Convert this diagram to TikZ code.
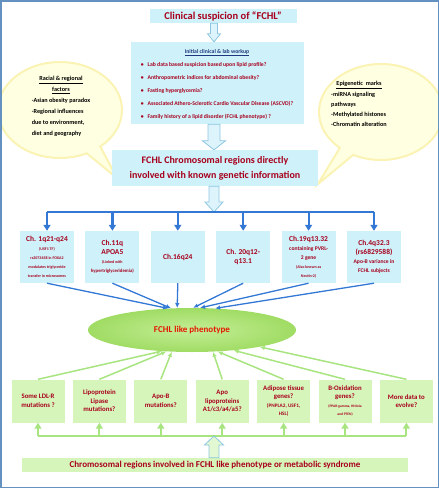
\documentclass[tikz,border=0pt]{standalone}
\usepackage{fontspec}
\setmainfont{Carlito}
\usetikzlibrary{arrows.meta,positioning,calc,shapes.geometric,shapes.callouts}
\definecolor{cyanfill}{RGB}{206,241,250}
\definecolor{darkred}{RGB}{168,0,28}
\definecolor{headblue}{RGB}{30,55,125}
\definecolor{chblue}{RGB}{50,120,212}
\definecolor{gfill}{RGB}{214,245,186}
\definecolor{gline}{RGB}{168,228,128}
\definecolor{phgreen}{RGB}{160,220,100}
\definecolor{phlight}{RGB}{196,238,150}
\definecolor{phred}{RGB}{228,24,0}
\definecolor{calfill}{RGB}{255,255,226}
\definecolor{caledge}{RGB}{250,243,180}
\definecolor{hollowedge}{RGB}{140,198,225}
\definecolor{hollowfill}{RGB}{222,244,252}
\definecolor{gholfill}{RGB}{226,248,210}
\definecolor{frameblue}{RGB}{100,145,192}
\newcommand{\fsz}[2]{\fontsize{#1}{#2}\selectfont\bfseries}
\newcommand{\chnote}[1]{{\fsz{4}{5}#1}}
\newcommand{\chmid}[1]{{\fsz{5.6}{7}#1}}
\tikzset{
  titlebox/.style={fill=cyanfill, text=darkred, font={\fsz{10.5}{12}}, minimum width=147pt, minimum height=14pt, inner sep=1pt},
  workbox/.style={fill=cyanfill, text=darkred, font={\fsz{5.7}{13}}, minimum width=173pt, minimum height=81pt, inner sep=2pt},
  chrombox/.style={fill=cyanfill, text=darkred, font={\fsz{10}{15}}, minimum width=206pt, minimum height=36pt, inner sep=1pt, align=center},
  chbox/.style={fill=cyanfill, text=darkred, font={\fsz{7.5}{9}}, minimum width=54pt, minimum height=52pt, inner sep=1pt, align=center},
  gbox/.style={fill=gfill, text=darkred, font={\fsz{6.8}{8.5}}, minimum width=53pt, minimum height=43pt, inner sep=1pt, align=center},
  crbox/.style={fill=gfill, text=darkred, font={\fsz{9}{10}}, minimum width=386pt, minimum height=14pt, inner sep=1pt},
  phen/.style={ellipse, inner color=phlight, outer color=phgreen, text=phred, font={\fsz{9}{10}}, minimum width=208pt, minimum height=44pt},
  cloud/.style={ellipse callout, fill=calfill, draw=caledge, line width=2pt, minimum width=124pt, minimum height=96pt},
  cloudtext/.style={text=black, font={\fsz{6.2}{11}}, inner sep=0pt},
  hollow/.style={draw=hollowedge, fill=hollowfill, line width=0.8pt, line join=miter},
  branch/.style={draw=chblue, line width=2.4pt},
  branchdown/.style={draw=chblue, line width=2.2pt, -{Triangle[length=6pt,width=7pt]}},
  feed/.style={draw=chblue, line width=1.3pt, -{Latex[length=5pt,width=4.5pt]}},
  gbranch/.style={draw=gline, line width=2.4pt},
  gup/.style={draw=gline, line width=2pt, -{Triangle[length=6pt,width=7pt]}},
  gfeed/.style={draw=gline, line width=1.5pt, -{Latex[length=5pt,width=4.5pt]}},
  frame/.style={draw=frameblue, line width=1.5pt}
}
% block arrow: start, tip, shaft half width, head half width, head length (signed)
\newcommand{\hollowarrow}[6][hollow]{%
  \draw[#1] let \p1=(#2), \p2=(#3) in
    ({\x1-#4},\y1) -- ({\x1-#4},{\y2+#6}) -- ({\x1-#5},{\y2+#6}) -- (\x2,\y2)
    -- ({\x1+#5},{\y2+#6}) -- ({\x1+#4},{\y2+#6}) -- ({\x1+#4},\y1) -- cycle;}

\begin{document}
\begin{tikzpicture}[x=1pt, y=-1pt]
  \useasboundingbox (0,0) rectangle (439,488);
  \coordinate (axis) at (214,0);
  \coordinate (bar) at (214,212);
  \coordinate (gbar) at (214,436);
  \coordinate (racialtip) at (117,178);
  \coordinate (epitip) at (318,184);

  % side notes
  \node[cloud, callout absolute pointer={(racialtip)}] (racial) at (60,110) {};
  \node[cloud, callout absolute pointer={(epitip)}] (epi) at (381,112) {};
  \node[cloudtext] (racialtext) at (61,106) {\begin{tabular}{@{}l@{}}
    \multicolumn{1}{@{}c@{}}{\underline{Racial \& regional}}\\
    \multicolumn{1}{@{}c@{}}{\underline{factors}}\\
    -Asian obesity paradox\\ -Regional influences\\ due to environment,\\ diet and geography
  \end{tabular}};
  \node[cloudtext, font={\fsz{6.2}{10}}] (epitext) at (359,104) {\begin{tabular}{@{}l@{}}
    \multicolumn{1}{@{}c@{}}{\underline{Epigenetic\ \ marks}}\\
    -miRNA signaling\\ pathways\\ -Methylated histones\\ -Chromatin alteration
  \end{tabular}};

  % main column
  \node[titlebox] (title) at (223,16) {Clinical suspicion of “FCHL”};
  \node[workbox] (work) at (217,83) {\begin{tabular}{@{}l@{}}
    \multicolumn{1}{@{}c@{}}{\textcolor{headblue}{\underline{Initial clinical \& lab workup}}}\\
    \textbullet\hspace{4pt}Lab  data  based suspicion based upon lipid profile?\\
    \textbullet\hspace{4pt}Anthropometric indices for abdominal obesity?\\
    \textbullet\hspace{4pt}Fasting hyperglycemia?\\
    \textbullet\hspace{4pt}Associated Athero-Sclerotic Cardio Vascular Disease (ASCVD)?\\
    \textbullet\hspace{4pt}Family history of a lipid disorder (FCHL phenotype) ?
  \end{tabular}};
  \node[chrombox] (chrom) at (215,168) {FCHL Chromosomal regions directly\\involved with known genetic information};

  \hollowarrow{title.south -| axis}{work.north -| axis}{3.5pt}{6.5pt}{8pt}
  \hollowarrow{work.south -| axis}{chrom.north -| axis}{6pt}{11.5pt}{9pt}
  \hollowarrow{chrom.south -| axis}{bar}{5pt}{9pt}{10pt}

  % chromosomal regions
  \node[chbox] (c1) at (47,257) {Ch. 1q21-q24\\\chnote{(USF1 TF)}\\\chnote{rs2073658 in FOXA2}\\\chnote{modulates triglyceride}\\\chnote{transfer in microsomes}};
  \node[chbox, right=11pt of c1] (c2) {Ch.11q\\APOA5\\\chnote{(Linked with}\\{\fsz{4.8}{6}hypertriglyceridemia)}};
  \node[chbox, right=11pt of c2] (c3) {Ch.16q24};
  \node[chbox, right=11pt of c3] (c4) {Ch. 20q12-\\q13.1};
  \node[chbox, right=11pt of c4] (c5) {Ch.19q13.32\\\chmid{containing PVRL-}\\\chmid{2 gene}\\\chnote{(Also known as}\\\chnote{Nectin-2)}};
  \node[chbox, right=11pt of c5] (c6) {Ch.4q32.3\\(rs6829588)\\\chmid{Apo-B variance in}\\\chmid{FCHL subjects}};

  \draw[branch] (c1.north |- bar) -- (c6.north |- bar);
  \foreach \c in {c1,c2,c3,c4,c5,c6}
    \draw[branchdown] (\c.north |- bar) -- (\c.north);

  \node[phen] (ph) at (192,330) {FCHL like phenotype};
  \foreach \c/\a in {c1/138,c2/134,c3/124,c4/87,c5/70,c6/43}
    \draw[feed] (\c.south) -- (ph.\a);

  % candidate genes
  \node[gbox] (b1) at (38,401) {Some LDL-R\\mutations ?};
  \node[gbox, right=8pt of b1] (b2) {Lipoprotein\\Lipase\\mutations?};
  \node[gbox, right=8pt of b2] (b3) {Apo-B\\mutations?};
  \node[gbox, right=8pt of b3] (b4) {Apo\\lipoproteins\\A1/c3/a4/a5?};
  \node[gbox, right=8pt of b4] (b5) {Adipose tissue\\genes?\\{\fsz{5.2}{6}(PNPLA2, USF1,}\\{\fsz{5.2}{6}HSL)}};
  \node[gbox, right=8pt of b5] (b6) {B-Oxidation\\genes?\\{\fsz{3.6}{4.5}(PPAR-gamma, HNA4a}\\{\fsz{3.6}{4.5}and PTEN)}};
  \node[gbox, right=8pt of b6] (b7) {More data to\\evolve?};

  \foreach \b/\a in {b1/215,b2/220,b3/227,b4/314,b5/320,b6/334,b7/346}
    \draw[gfeed] (\b.north) -- (ph.\a);

  \draw[gbranch] (b1.south |- gbar) -- (b7.south |- gbar);
  \foreach \b in {b1,b2,b3,b4,b5,b6,b7}
    \draw[gup] (\b.south |- gbar) -- (\b.south);

  \node[crbox] (cr) at (215,465) {Chromosomal regions involved in FCHL like phenotype or metabolic syndrome};
  \hollowarrow[hollow, fill=gholfill]{cr.north -| axis}{gbar}{5pt}{9.5pt}{-9pt}

  \draw[frame] (0.75,0.75) rectangle (438.25,487.25);
\end{tikzpicture}
\end{document}
